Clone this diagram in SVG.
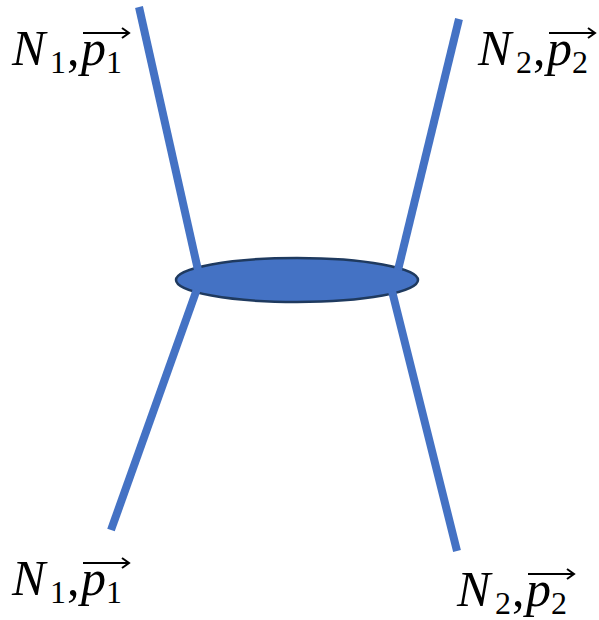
<svg xmlns="http://www.w3.org/2000/svg" width="599" height="620" viewBox="0 0 599 620">
<style>
.leg{stroke:#4472C4;stroke-width:8;fill:none}
.lbl{font-family:"Liberation Serif","DejaVu Serif",serif;fill:#000}
.it{font-style:italic;font-size:50px}
.rm{font-size:50px}
.sub{font-size:32px}
.arr{stroke:#000;stroke-width:2;fill:none}
</style>
<rect width="599" height="620" fill="#fff"/>
<g id="blob">
<ellipse cx="297" cy="280" rx="121" ry="22" fill="#4472C4" stroke="#1F3A5F" stroke-width="2.5"/>
</g>
<g id="connectors">
<line class="leg" x1="139" y1="7" x2="198" y2="270"/>
<line class="leg" x1="459" y1="19" x2="398" y2="270"/>
<line class="leg" x1="197" y1="289" x2="111" y2="530"/>
<line class="leg" x1="392" y1="291" x2="457" y2="551"/>
</g>
<g id="label-tl" class="lbl" transform="translate(12,65)">
<text x="0" y="0" class="it">N</text><text x="38" y="8" class="sub">1</text><text x="55" y="0" class="rm">,</text><text x="69" y="0" class="it">p</text><text x="94" y="8" class="sub">1</text>
<path class="arr" d="M71,-32 H116 M110,-37 L117,-32 L110,-27"/>
</g>
<g id="label-tr" class="lbl" transform="translate(478,65)">
<text x="0" y="0" class="it">N</text><text x="38" y="8" class="sub">2</text><text x="55" y="0" class="rm">,</text><text x="69" y="0" class="it">p</text><text x="94" y="8" class="sub">2</text>
<path class="arr" d="M71,-32 H116 M110,-37 L117,-32 L110,-27"/>
</g>
<g id="label-bl" class="lbl" transform="translate(12,595)">
<text x="0" y="0" class="it">N</text><text x="38" y="8" class="sub">1</text><text x="55" y="0" class="rm">,</text><text x="69" y="0" class="it">p</text><text x="94" y="8" class="sub">1</text>
<path class="arr" d="M71,-32 H116 M110,-37 L117,-32 L110,-27"/>
</g>
<g id="label-br" class="lbl" transform="translate(457,606)">
<text x="0" y="0" class="it">N</text><text x="38" y="8" class="sub">2</text><text x="55" y="0" class="rm">,</text><text x="69" y="0" class="it">p</text><text x="94" y="8" class="sub">2</text>
<path class="arr" d="M71,-32 H116 M110,-37 L117,-32 L110,-27"/>
</g>
</svg>
